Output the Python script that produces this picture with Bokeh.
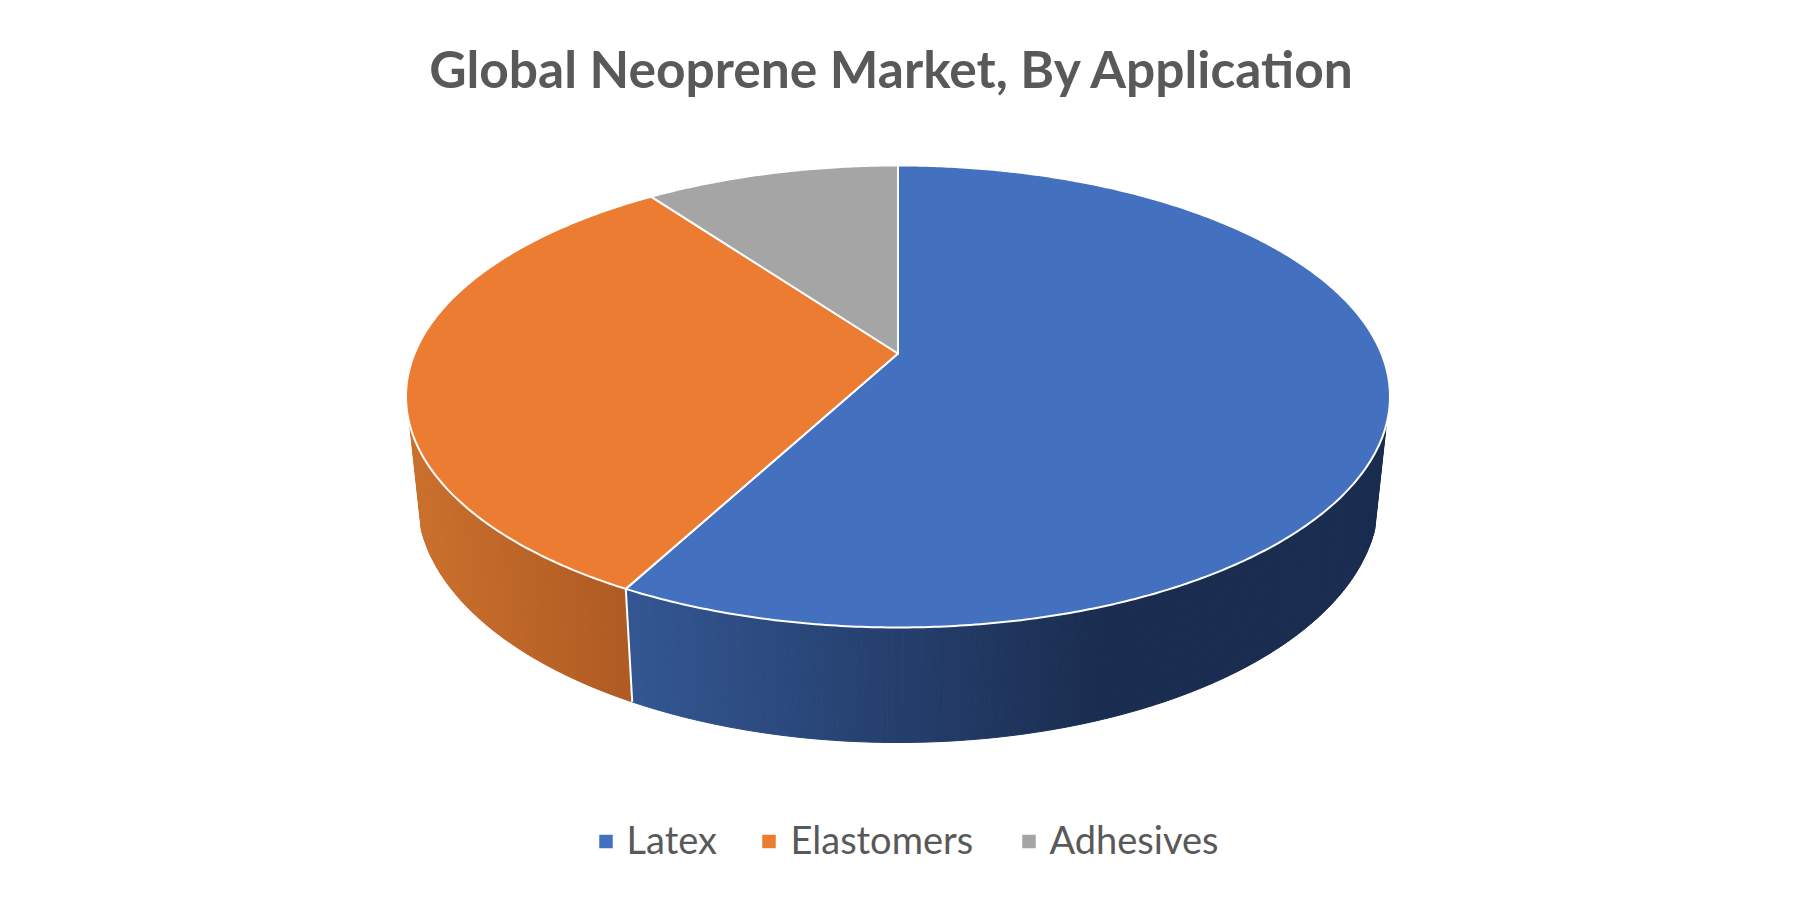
import numpy as np
from bokeh.plotting import figure
from bokeh.models import Range1d
from bokeh.core.properties import value
from bokeh.embed import file_html
from bokeh.resources import INLINE

title_text = "Global Neoprene Market, By Application"
categories = ["Latex", "Elastomers", "Adhesives"]
shares = [57.8, 32.2, 10]
colors = ["#4371C0", "#EB7C31", "#A5A5A5"]

# perspective projection of the pie disc
CX = 897.5
TOP = dict(a=483.4, b=223.0, y0=353.0)
BOT = dict(a=472.0, b=234.6, y0=453.8)
K = 0.186
SIDE_FROM = 107.5  # visible rim starts here, clockwise degrees from 12 o'clock
SIDE_TO = 252.5


def project(theta_deg, plane):
    t = np.radians(theta_deg)
    u, v = np.sin(t), np.cos(t)
    w = 1 + K * v
    return CX + plane["a"] * u / w, plane["y0"] - plane["b"] * v / w


side_stops = {
    0: ([632, 1100], [(0x33, 0x56, 0x92), (0x1A, 0x2D, 0x50)]),
    1: ([409, 632], [(0xCC, 0x71, 0x2E), (0xAE, 0x5A, 0x22)]),
}


def side_color(i, x):
    xs, cols = side_stops[i]
    c = [int(round(np.interp(x, xs, [cols[0][k], cols[1][k]]))) for k in range(3)]
    return "#%02x%02x%02x" % tuple(c)


p = figure(width=1796, height=907, output_backend="svg", toolbar_location=None,
           x_range=Range1d(0, 1796), y_range=Range1d(907, 0),
           min_border=0, outline_line_color=None, background_fill_color="white")
p.xaxis.visible = False
p.yaxis.visible = False
p.grid.visible = False

edges = np.concatenate([[0], np.cumsum(shares)]) * 3.6

# side walls as thin vertical strips so that the shade runs across the wall
for i in range(2):
    lo = max(edges[i], SIDE_FROM)
    hi = min(edges[i + 1], SIDE_TO)
    th = np.arange(lo, hi + 0.01, 0.5)
    if th[-1] < hi:
        th = np.append(th, hi)
    xs, ys, cs = [], [], []
    for a, b in zip(th[:-1], th[1:]):
        xa, ya = project(a, TOP)
        xb, yb = project(b, TOP)
        xc, yc = project(b, BOT)
        xd, yd = project(a, BOT)
        xs.append([xa, xb, xc, xd])
        ys.append([ya, yb, yc, yd])
        cs.append(side_color(i, (xa + xb + xc + xd) / 4))
    p.patches(xs, ys, fill_color=cs, line_color=cs, line_width=1)

# edge between the two walls
xa, ya = project(edges[1], TOP)
xb, yb = project(edges[1], BOT)
p.line([xa, xb], [ya, yb], line_color="white", line_width=2)

# top face
for i in range(3):
    th = np.arange(edges[i], edges[i + 1] + 0.01, 0.5)
    if th[-1] < edges[i + 1]:
        th = np.append(th, edges[i + 1])
    x, y = project(th, TOP)
    xs = np.concatenate([[CX], x])
    ys = np.concatenate([[TOP["y0"]], y])
    p.patch(xs, ys, fill_color=colors[i], line_color="white", line_width=2, line_join="round")

# title
p.text([892], [67], text=[title_text], text_font=value("Lato"), text_font_size="51.5px",
       text_font_style="bold", text_color="#595959", text_align="center", text_baseline="alphabetic")

# legend
swatch_x = [605.5, 768.5, 1028.5]
label_x = [626, 790, 1049]
p.rect(swatch_x, [841] * 3, width=13.5, height=13.5, fill_color=colors, line_color=None)
p.text(label_x, [838] * 3, text=categories, text_font=value("Lato"), text_font_size="38px",
       text_color="#595959", text_align="left", text_baseline="alphabetic")

open("out.html", "w").write(file_html(p, INLINE))
